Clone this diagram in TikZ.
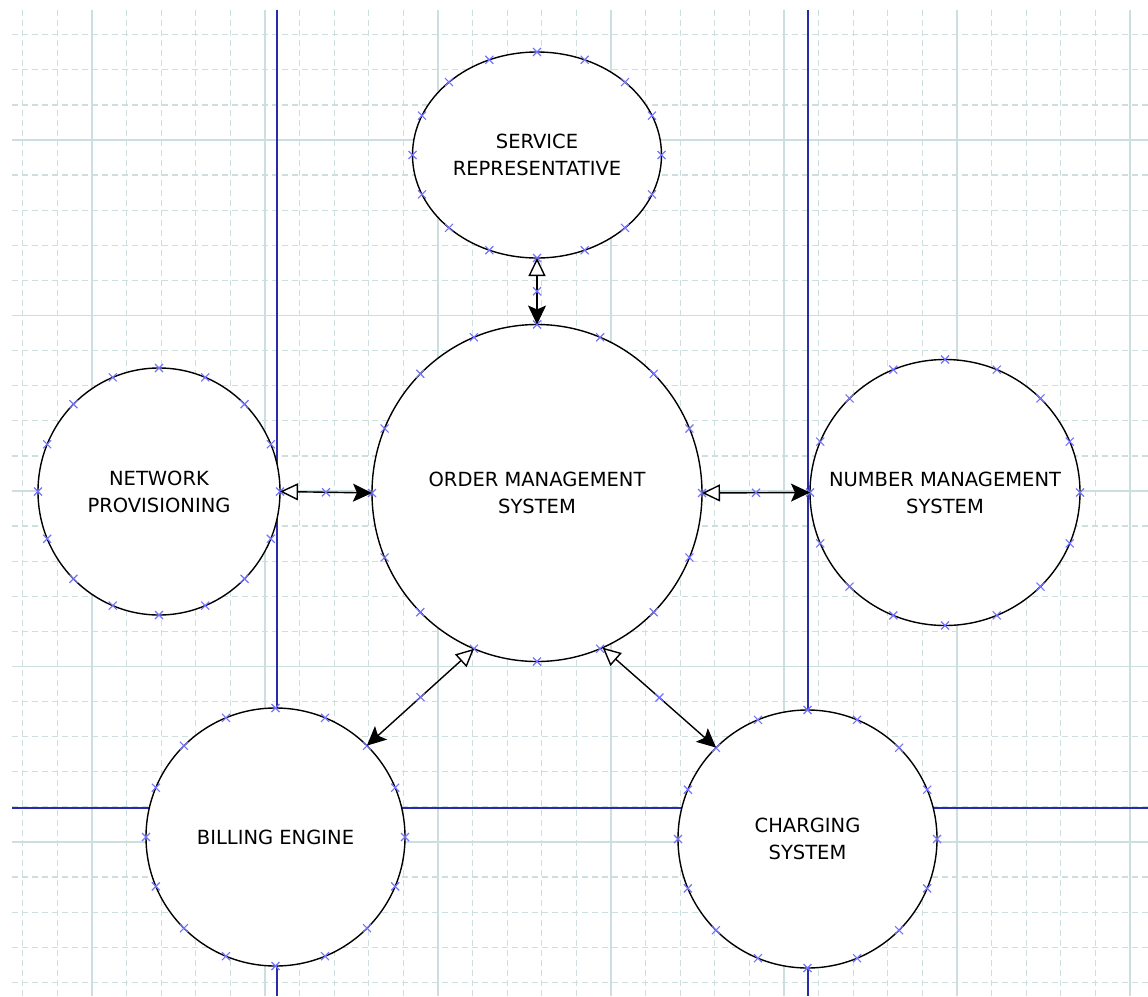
\documentclass[tikz,border=0pt]{standalone}
\usepackage{fontspec}
\setmainfont{DejaVu Sans}
\usetikzlibrary{arrows.meta,calc,shapes.geometric}
\definecolor{gridline}{RGB}{205,222,222}
\definecolor{planblue}{RGB}{40,44,170}
\definecolor{portblue}{RGB}{115,115,255}

\begin{document}
\begin{tikzpicture}[
    x=1pt, y=-1pt,
    gridminor/.style={draw=gridline, line width=1.3, dash pattern=on 6pt off 4pt},
    gridmajor/.style={draw=gridline, line width=1.5},
    plan/.style={draw=planblue, line width=2},
    sys/.style={ellipse, draw=black, fill=white, line width=1.4, inner sep=0, outer sep=0},
    txt/.style={align=center, font=\fontsize{19.5}{27}\selectfont, text=black},
    link/.style={draw=black, line width=1.4,
        {Triangle[open, fill=white, length=18pt, width=17pt, line width=1.4]}-{Stealth[length=19pt, width=18pt, inset=4pt]}},
    port/.pic={\draw[portblue, line width=1.1] (-4,-4) -- (4,4) (-4,4) -- (4,-4);}
  ]
\useasboundingbox[fill=white] (0,0) rectangle (1148,996);

\foreach \k in {0,...,32}
  \draw[gridminor] ({22.8+34.6*\k},10) -- ({22.8+34.6*\k},996);
\foreach \k in {0,...,27}
  \draw[gridminor] (12,{34.7+35.1*\k}) -- (1148,{34.7+35.1*\k});
\foreach \k in {0,...,6}
  \draw[gridmajor] ({92+173*\k},10) -- ({92+173*\k},996);
\foreach \k in {0,...,4}
  \draw[gridmajor] (12,{140+175.5*\k}) -- (1148,{140+175.5*\k});

\draw[plan] (277,10) -- (277,996);
\draw[plan] (808,10) -- (808,996);
\draw[plan] (12,808) -- (1148,808);

\node[sys, minimum width=249, minimum height=206,
      label={[txt, name=srv-t]center:SERVICE\\REPRESENTATIVE}] (srv) at (537,155) {};
\node[sys, minimum width=330, minimum height=337,
      label={[txt, name=oms-t]center:ORDER MANAGEMENT\\SYSTEM}] (oms) at (537,493) {};
\node[sys, minimum width=242, minimum height=247,
      label={[txt, name=net-t]center:NETWORK\\PROVISIONING}] (net) at (159,491.5) {};
\node[sys, minimum width=270, minimum height=266,
      label={[txt, name=num-t]center:NUMBER MANAGEMENT\\SYSTEM}] (num) at (945,492.5) {};
\node[sys, minimum width=259, minimum height=258,
      label={[txt, name=bil-t]center:BILLING ENGINE}] (bil) at (275.5,837) {};
\node[sys, minimum width=259, minimum height=258,
      label={[txt, name=chg-t]center:CHARGING\\SYSTEM}] (chg) at (807.5,839) {};

\foreach \n/\rx/\ry in {srv/124.5/103, oms/165/168.5, net/121/123.5, num/135/133, bil/129.5/129, chg/129.5/129}
  \foreach \a in {0,22.5,...,337.5}
    \pic at ($(\n)+(\a:{\rx} and {\ry})$) {port};

\draw[link] (srv.south) -- (oms.north);
\draw[link] (net.east) -- (oms.west);
\draw[link] (oms.east) -- (num.west);
\draw[link] (oms.-112.5) -- (bil.45);
\draw[link] (oms.-67.5) -- (chg.135);

\foreach \a/\b in {srv.south/oms.north, net.east/oms.west, oms.east/num.west, oms.-112.5/bil.45, oms.-67.5/chg.135}
  \pic at ($(\a)!.5!(\b)$) {port};

\end{tikzpicture}
\end{document}
